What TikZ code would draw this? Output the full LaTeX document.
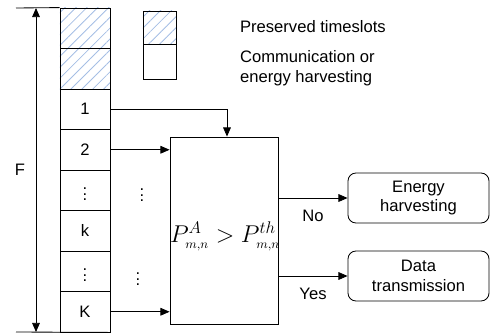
\documentclass[tikz,border=0pt]{standalone}
\usepackage{fontspec}
\setmainfont{Liberation Sans}
\usetikzlibrary{arrows.meta,patterns.meta}
\definecolor{hatchblue}{RGB}{165,190,228}

\begin{document}
\begin{tikzpicture}[x=0.025cm,y=-0.025cm,line width=0.6pt,
	font=\fontsize{11.8}{14}\selectfont,
	>={Triangle[length=6.5pt,width=5.5pt]},
	slot/.style={draw,minimum width=1.25cm,minimum height=1.0125cm,inner sep=0pt},
	hatch/.style={pattern={Lines[angle=45,distance=5.5pt,line width=0.6pt]},pattern color=hatchblue},
	result/.style={draw,rounded corners=0.2cm,minimum width=3.525cm,minimum height=1.25cm,align=center,inner sep=1pt}]
	\useasboundingbox (0,0) rectangle (491,335);
	
	%frame of timeslots
	\foreach \i in {0,1}
	\node[slot,hatch] (s\i) at (85,28.25+40.5*\i) {};
	\foreach \i/\t in {2/1,3/2,4/$\vdots$,5/k,6/$\vdots$,7/K}
	\node[slot] (s\i) at (85,28.25+40.5*\i) {\t};
	\node[inner sep=0pt] (dotsA) at (142,191) {$\vdots$};
	\node[inner sep=0pt] (dotsB) at (138,275) {$\vdots$};
	
	%frame length
	\coordinate (Ftop) at (16,8);
	\coordinate (Fbot) at (16,332);
	\draw (Ftop) -- (s0.north west);
	\draw (Fbot) -- (s7.south east);
	\draw[<->] (36,8) -- (36,332);
	\node (F) at (20,170) {F};
	
	%legend
	\node[slot,hatch,minimum width=0.825cm,minimum height=0.825cm] (legA) at (159.5,27.5) {};
	\node[slot,minimum width=0.825cm,minimum height=0.875cm,anchor=north] (legB) at (legA.south) {};
	\node[anchor=west] (legAtxt) at (235,27) {Preserved timeslots};
	\node[anchor=west,align=left] (legBtxt) at (235,68) {Communication or\\energy harvesting};
	
	%decision
	\node[draw,minimum width=2.7cm,minimum height=4.675cm,inner sep=0pt] (dec) at (224,230.5) {};
	\node[font=\fontsize{18}{20}\selectfont,inner sep=0pt] (cond) at (225,236)
	{$P^{A}_{\scriptscriptstyle m,n} > P^{th}_{\scriptscriptstyle m,n}$};
	\draw[->] (s2.east) -| ([xshift=0.075cm]dec.north);
	\draw[->] (s3.east) -- (s3.east -| dec.west);
	\draw[->] (s7.east) -- (s7.east -| dec.west);
	
	%outcomes
	\node[result] (eh) at (418.5,198) {Energy\\harvesting};
	\node[result] (dt) at (418.5,276) {Data\\transmission};
	\draw[->] (eh.west -| dec.east) -- node[below=5pt] {No} (eh.west);
	\draw[->] (dt.west -| dec.east) -- node[below=5pt] {Yes} (dt.west);
\end{tikzpicture}
\end{document}
